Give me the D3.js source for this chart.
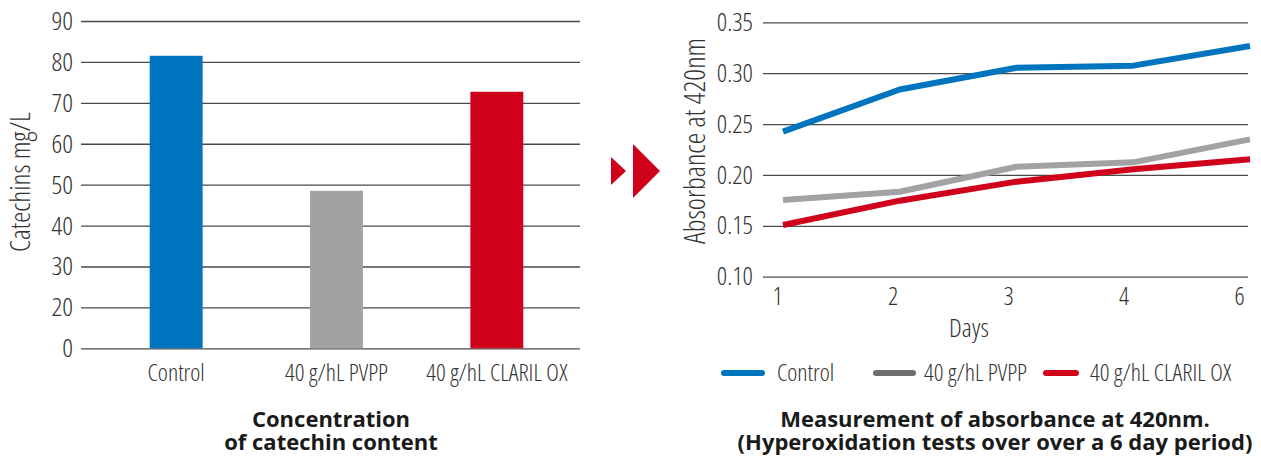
<!DOCTYPE html>
<html><head><meta charset="utf-8">
<script src="https://cdn.jsdelivr.net/npm/d3@7"></script>
<style>
body{margin:0;background:#fff;}
svg{display:block;}
.cond{font-family:"Open Sans";font-stretch:75%;font-weight:300;font-size:24px;fill:#333;}
.title{font-family:"Open Sans";font-weight:700;font-size:22px;fill:#1a1a1a;}
</style></head><body>
<svg id="c" width="1261" height="456"></svg>
<script>
// ---- data: bar chart ----
const barCategories = ["Control", "40 g/hL PVPP", "40 g/hL CLARIL OX"];
const barValues = [81.5, 48.5, 72.7];
const barColors = ["#0075bf", "#a2a2a4", "#d0021b"];
const barTickValues = [10, 20, 30, 40, 50, 60, 70, 80, 90];
const barTickLabels = ["0", "20", "30", "40", "50", "60", "70", "80", "90"];
// ---- data: line chart ----
const days = ["1", "2", "3", "4", "6"];
const seriesNames = ["Control", "40 g/hL PVPP", "40 g/hL CLARIL OX"];
const controlValues = [0.2425, 0.284, 0.3054, 0.3074, 0.3267];
const pvppValues = [0.1754, 0.1835, 0.208, 0.2124, 0.235];
const clarilValues = [0.1508, 0.1747, 0.1934, 0.2055, 0.2154];
const lineTickValues = [0.10, 0.15, 0.20, 0.25, 0.30, 0.35];
const lineColors = ["#0075bf", "#a2a2a4", "#d0021b"];
const legendColors = ["#0075bf", "#6e6e6e", "#d0021b"];

const svg = d3.select("#c");
const gridColor = "#4a4a4a";
function styleText(sel, size) {
  sel.attr("class", "cond").attr("font-family", null).attr("font-size", null).attr("fill", null);
  if (size) sel.style("font-size", size + "px");
}

// ================= LEFT: bar chart =================
const L = {x0: 81, x1: 580, yTop: 21, yBot: 348.3};
const yB = d3.scaleLinear().domain([10, 90]).range([L.yBot, L.yTop]);
const xB = d3.scaleBand().domain(barCategories).range([96, 577]).paddingInner(0.67).paddingOuter(0.335);

const gyB = svg.append("g").attr("transform", `translate(${L.x0},0)`)
  .call(d3.axisLeft(yB).tickValues(barTickValues)
    .tickFormat((d, i) => barTickLabels[i])
    .tickSize(-(L.x1 - L.x0)).tickPadding(8));
gyB.select(".domain").remove();
gyB.selectAll(".tick line").attr("stroke", gridColor).attr("stroke-width", 1.3);
styleText(gyB.selectAll(".tick text"), 26.5);

svg.append("g").selectAll("rect").data(barValues).join("rect")
  .attr("x", (d, i) => xB(barCategories[i]))
  .attr("width", xB.bandwidth())
  .attr("y", d => yB(d))
  .attr("height", d => yB(10) - yB(d))
  .attr("fill", (d, i) => barColors[i]);

const gxB = svg.append("g").attr("transform", `translate(0,${L.yBot})`)
  .call(d3.axisBottom(xB).tickSize(0).tickPadding(16));
gxB.select(".domain").remove();
styleText(gxB.selectAll(".tick text"));

svg.append("text").attr("class", "cond").style("font-size", "28px")
  .attr("transform", `translate(30,182) rotate(-90)`)
  .attr("text-anchor", "middle").text("Catechins mg/L");

const t1 = svg.append("text").attr("class", "title").attr("text-anchor", "middle");
t1.append("tspan").attr("x", 331).attr("y", 427).text("Concentration");
t1.append("tspan").attr("x", 331).attr("y", 450).text("of catechin content");

// ================= arrows =================
const arrowColor = "#d0021b";
svg.append("path").attr("fill", arrowColor)
  .attr("d", d3.line()([[611, 157], [626, 171], [611, 185]]) + "Z");
svg.append("path").attr("fill", arrowColor)
  .attr("d", d3.line()([[633, 144], [660, 171], [633, 198]]) + "Z");

// ================= RIGHT: line chart =================
const R = {x0: 763, x1: 1248, yTop: 22.3, yBot: 276.7};
const yL = d3.scaleLinear().domain([0.10, 0.35]).range([R.yBot, R.yTop]);
const xL = d3.scalePoint().domain(days).range([783, 1250]);
const xLab = d3.scalePoint().domain(days).range([777, 1239]);

const gyL = svg.append("g").attr("transform", `translate(${R.x0},0)`)
  .call(d3.axisLeft(yL).tickValues(lineTickValues).tickFormat(d3.format(".2f"))
    .tickSize(-(R.x1 - R.x0)).tickPadding(10));
gyL.select(".domain").remove();
gyL.selectAll(".tick line").attr("stroke", gridColor).attr("stroke-width", 1.3);
styleText(gyL.selectAll(".tick text"), 25.5);

const gxL = svg.append("g").attr("transform", `translate(0,${R.yBot})`)
  .call(d3.axisBottom(xLab).tickSize(0).tickPadding(11));
gxL.select(".domain").remove();
styleText(gxL.selectAll(".tick text"), 25);

svg.append("text").attr("class", "cond").style("font-size", "26px").attr("text-anchor", "middle")
  .attr("x", 969).attr("y", 337).text("Days");

svg.append("text").attr("class", "cond").style("font-size", "29px")
  .attr("transform", `translate(705,141) rotate(-90)`)
  .attr("text-anchor", "middle").text("Absorbance at 420nm");

const allSeries = [controlValues, pvppValues, clarilValues];
const line = d3.line().x((d, i) => xL(days[i])).y(d => yL(d));
svg.append("g").selectAll("path").data(allSeries).join("path")
  .attr("d", line)
  .attr("fill", "none")
  .attr("stroke", (d, i) => lineColors[i])
  .attr("stroke-width", 6)
  .attr("stroke-linejoin", "round");

// legend (layout constants)
const legendX = [724, 876, 1046];
const legendLen = [38, 37, 30];
const legendTextDx = [53, 48, 44];
const legendY = 373;
const lg = svg.append("g").selectAll("g").data(seriesNames).join("g")
  .attr("transform", (d, i) => `translate(${legendX[i]},${legendY})`);
lg.append("line").attr("x1", 0).attr("x2", (d, i) => legendLen[i])
  .attr("stroke", (d, i) => legendColors[i]).attr("stroke-width", 6).attr("stroke-linecap", "round");
lg.append("text").attr("class", "cond").attr("x", (d, i) => legendTextDx[i]).attr("dy", "0.34em").text(d => d);

const t2 = svg.append("text").attr("class", "title").attr("text-anchor", "middle");
t2.append("tspan").attr("x", 995).attr("y", 427).text("Measurement of absorbance at 420nm.");
t2.append("tspan").attr("x", 995).attr("y", 450).text("(Hyperoxidation tests over over a 6 day period)");
</script>
</body></html>
